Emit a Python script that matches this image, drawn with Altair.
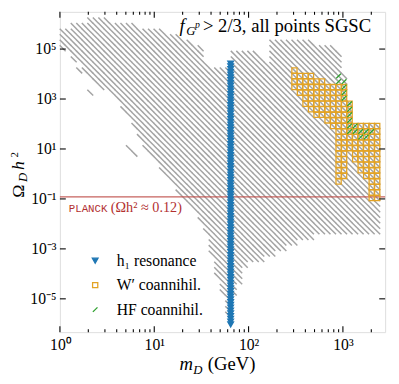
import altair as alt
import numpy as np
import pandas as pd

# ---------------- binning of the scan (log10 units) ----------------
DLX = 0.0585          # width of one m_D bin, decades
DLY = 2.0 / 9.0       # height of one Omega h^2 bin, decades
LY0 = 4.255           # a bin edge in log10(Omega h^2)

# ---------------- all points (grey hatch) ----------------
# per m_D bin i (centre log10 m = DLX*(i+0.5)): top / bottom log10(Omega h^2)
gray_top = [5.75, 5.82, 5.94, 6.02, 6.14, 6.22, 6.22, 6.22, 6.18, 6.14,
            6.06, 6.02, 5.98, 5.94, 5.90, 5.86, 5.82, 5.75, 5.71, 5.67,
            5.63, 5.55, 5.47, 5.39, 5.24, 5.04, 4.37, 4.33, 4.33, 4.33,
            4.33, 4.84, 4.84, 4.84, 4.84, 4.84, 4.76, 4.53, 5.31, 5.31,
            5.31, 5.31, 5.31, 5.31, 5.31, 5.31, 5.24, 5.24, 5.16, 5.08,
            4.96, 3.98, 2.92, 2.00, 2.00, 2.00, 2.00, 2.00]
gray_bot = [4.96, 4.84, 4.65, 4.37, 4.06, 3.86, 3.67, 3.47, 3.27, 3.08,
            2.88, 2.49, 2.18, 1.78, 1.39, 1.00, 0.73, 0.45, 0.14, -0.18,
            -0.49, -0.80, -1.04, -1.27, -1.63, -2.02, -2.41, -3.20, -4.18, -4.96,
            -5.67, -4.96, -4.37, -3.71, -3.59, -3.51, -3.51, -3.39, -3.20, -3.12,
            -3.08, -2.92, -2.80, -2.69, -2.61, -2.53, -2.45, -2.41, -2.37, -2.33,
            -2.33, -2.33, -2.33, -2.33, -2.33, -2.33, -2.41, -2.45]
# isolated grey points
gray_extra_logm = [0.15, 0.21, 0.32, 0.73, 0.79]
gray_extra_logo = [4.50, 4.20, 3.30, 1.00, 0.90]

# ---------------- h1 resonance ----------------
res_logm = 1.81
res_logo_top = 4.45
res_logo_bot = -6.06

# ---------------- W' coannihilation (rows of bins) ----------------
w_logo    = [4.14, 3.92, 3.70, 3.48, 3.26, 3.03, 2.81, 2.59, 2.37, 2.14,
             1.92, 1.70, 1.48, 1.26, 1.03, 0.81, 0.81, 0.59, 0.59, 0.37,
             0.37, 0.14, 0.14, -0.08, -0.08, -0.30, -0.30, -0.52, -0.75, -0.97]
w_logm_lo = [2.49, 2.49, 2.49, 2.49, 2.55, 2.60, 2.60, 2.66, 2.72, 2.84,
             2.90, 2.95, 2.95, 2.95, 2.95, 2.95, 3.13, 2.95, 3.13, 2.95,
             3.19, 2.95, 3.19, 2.95, 3.25, 2.95, 3.31, 3.31, 3.31, 3.31]
w_logm_hi = [2.49, 2.66, 2.78, 3.01, 3.01, 3.01, 3.07, 3.07, 3.07, 3.07,
             3.36, 3.36, 3.36, 3.36, 3.36, 3.01, 3.36, 3.01, 3.36, 3.01,
             3.36, 3.01, 3.36, 3.01, 3.36, 2.95, 3.36, 3.36, 3.36, 3.36]

# ---------------- HF coannihilation (rows of bins) ----------------
hf_logo    = [3.92, 3.70, 3.48, 3.26, 3.03, 2.81, 2.59, 2.37, 2.14, 1.92, 1.70, 1.48]
hf_logm_lo = [2.95, 2.95, 3.01, 3.01, 3.01, 3.07, 3.07, 3.07, 3.07, 3.07, 3.07, 3.19]
hf_logm_hi = [2.95, 3.01, 3.01, 3.01, 3.01, 3.07, 3.07, 3.07, 3.07, 3.13, 3.31, 3.25]

series_labels = ["h\u2081 resonance", "W\u2032 coannihil.", "HF coannihil."]

# ---------------- axes ----------------
x_major = [1, 10, 100, 1000]
x_labels = ["10\u2070", "10\u00b9", "10\u00b2", "10\u00b3"]
x_minor = [2, 3, 4, 5, 6, 7, 8, 9, 20, 30, 40, 50, 60, 70, 80, 90,
           200, 300, 400, 500, 600, 700, 800, 900, 2000]
y_major = [1e5, 1e3, 1e1, 1e-1, 1e-3, 1e-5]
y_labels = ["10\u2075", "10\u00b3", "10\u00b9", "10\u207b\u00b9", "10\u207b\u00b3", "10\u207b\u2075"]
planck = [0.12]

# ---------------- build tables ----------------
def xc(i):
    return DLX * (i + 0.5)

def xi(lm):
    return int(round(lm / DLX - 0.5))

def yc(k, step=DLY):
    return LY0 + step * (k + 0.5)

def yk(lo, step=DLY):
    return int(round((lo - LY0) / step - 0.5))

def krange(lo, hi, step=DLY):
    return range(int(np.ceil((lo - LY0) / step - 0.5)), int(np.floor((hi - LY0) / step - 0.5)) + 1)

g = []
for i, (t, b) in enumerate(zip(gray_top, gray_bot)):
    for k in krange(b, t):
        g.append((10 ** xc(i), 10 ** yc(k)))
for lm, lo in zip(gray_extra_logm, gray_extra_logo):
    g.append((10 ** xc(xi(lm)), 10 ** yc(yk(lo))))
gray_df = pd.DataFrame(g, columns=["m", "omega"])

s = []
for k in krange(res_logo_bot, res_logo_top, DLY / 2):
    s.append((series_labels[0], 10 ** res_logm, 10 ** yc(k, DLY / 2)))
for lo, a, b in zip(w_logo, w_logm_lo, w_logm_hi):
    for i in range(xi(a), xi(b) + 1):
        s.append((series_labels[1], 10 ** xc(i), 10 ** yc(yk(lo))))
for lo, a, b in zip(hf_logo, hf_logm_lo, hf_logm_hi):
    for i in range(xi(a), xi(b) + 1):
        s.append((series_labels[2], 10 ** xc(i), 10 ** yc(yk(lo))))
spec_df = pd.DataFrame(s, columns=["kind", "m", "omega"])

W, H = 332, 327
xscale = alt.Scale(type="log", domain=[1, 10 ** 3.4475], nice=False)
yscale = alt.Scale(type="log", domain=[10 ** -6.334, 10 ** 6.49], nice=False)

SERIF = "Liberation Serif"


def lab_expr(vals, labels):
    e = "round(log(datum.value)/LN10)"
    parts = [f"{e} == {int(round(np.log10(v)))} ? '{l}'" for v, l in zip(vals, labels)]
    return " : ".join(parts) + " : ''"


XAX = alt.Axis(values=x_major, labelExpr=lab_expr(x_major, x_labels), ticks=False, tickSize=0,
               domain=False, grid=False, title=None, labelFont=SERIF, labelFontSize=16,
               labelColor="black", labelPadding=5, labelFlush=False, labelOverlap=False)
YAX = alt.Axis(values=y_major, labelExpr=lab_expr(y_major, y_labels), ticks=False, tickSize=0,
               domain=False, grid=False, title=None, labelFont=SERIF, labelFontSize=16,
               labelColor="black", labelPadding=4, labelFlush=False, labelOverlap=False)

gray = alt.Chart(gray_df).mark_point(
    shape="M-1,-1L1,1", filled=False, size=36, stroke="#a3a3a3",
    strokeWidth=1.5, opacity=1
).encode(
    x=alt.X("m:Q", scale=xscale, axis=XAX),
    y=alt.Y("omega:Q", scale=yscale, axis=YAX),
)

planck_line = alt.Chart(pd.DataFrame({"v": planck})).mark_rule(
    color="#c0504d", strokeWidth=1.2, opacity=0.9
).encode(y=alt.Y("v:Q", scale=yscale, axis=YAX))

leg = alt.Legend(orient="none", legendX=28, legendY=246, title=None, padding=0,
                 labelFont=SERIF, labelFontSize=16, labelColor="black",
                 rowPadding=9, labelOffset=14, symbolStrokeWidth=1.3, labelLimit=300)
dom = series_labels
special = alt.Chart(spec_df).mark_point(strokeWidth=1.3, opacity=1).encode(
    x=alt.X("m:Q", scale=xscale, axis=XAX),
    y=alt.Y("omega:Q", scale=yscale, axis=YAX),
    shape=alt.Shape("kind:N", scale=alt.Scale(domain=dom, range=["triangle-down", "square", "M-1,1L1,-1"]), legend=leg),
    fill=alt.Fill("kind:N", scale=alt.Scale(domain=dom, range=["#1f77b4", "transparent", "transparent"]), legend=leg),
    stroke=alt.Stroke("kind:N", scale=alt.Scale(domain=dom, range=["#1f77b4", "#e3a324", "#2ca02c"]), legend=leg),
    size=alt.Size("kind:N", scale=alt.Scale(domain=dom, range=[34, 22, 14]), legend=leg),
)

# inward ticks on all four sides
def xticks(vals, length):
    d = pd.DataFrame({"v": vals})
    bot = alt.Chart(d).mark_rule(color="black", strokeWidth=1.1).encode(
        x=alt.X("v:Q", scale=xscale, axis=XAX), y=alt.value(H), y2=alt.value(H - length))
    top = alt.Chart(d).mark_rule(color="black", strokeWidth=1.1).encode(
        x=alt.X("v:Q", scale=xscale, axis=XAX), y=alt.value(0), y2=alt.value(length))
    return [bot, top]

yd = pd.DataFrame({"v": y_major})
yt_left = alt.Chart(yd).mark_rule(color="black", strokeWidth=1.1).encode(
    y=alt.Y("v:Q", scale=yscale, axis=YAX), x=alt.value(0), x2=alt.value(6))
yt_right = alt.Chart(yd).mark_rule(color="black", strokeWidth=1.1).encode(
    y=alt.Y("v:Q", scale=yscale, axis=YAX), x=alt.value(W), x2=alt.value(W - 6))


def txt(t, x, y, size, font=SERIF, style="normal", align="left", angle=0, color="black"):
    return alt.Chart(pd.DataFrame({"t": [t]})).mark_text(
        font=font, fontSize=size, fontStyle=style, align=align, baseline="alphabetic",
        angle=angle, color=color
    ).encode(x=alt.value(x), y=alt.value(y), text="t:N")

texts = [
    # x title
    txt("m", 122, 366, 19, style="italic"),
    txt("D", 136, 370, 13, style="italic"),
    txt("(GeV)", 151, 366, 19),
    # y title
    txt("\u03a9", -37, 183, 18, align="center", angle=270),
    txt("D", -34, 169, 13, style="italic", align="center", angle=270),
    txt("h", -37, 157, 18, style="italic", align="center", angle=270),
    txt("2", -42.5, 146, 11, align="center", angle=270),
    # annotation
    txt("f", 122, 21, 19, style="italic"),
    txt("G", 129, 24, 13, style="italic"),
    txt("p", 138, 16.5, 10, style="italic"),
    txt("> 2/3, all points SGSC", 146, 21, 19),
    # planck
    txt("PLANCK", 9, 204, 11, font="Liberation Mono", color="#b22f2f"),
    txt("(\u03a9h\u00b2 \u2248 0.12)", 52, 204, 14.5, color="#b22f2f"),
]

chart = alt.layer(
    gray, planck_line, special, *xticks(x_major, 6), *xticks(x_minor, 3),
    yt_left, yt_right, *texts
).properties(
    width=W, height=H,
    autosize=alt.AutoSizeParams(type="none"),
    padding={"left": 53, "top": 0, "right": 6, "bottom": 49},
).configure_view(stroke="black", strokeWidth=1.6).configure(background="white")

chart.save("out.html", embed_options={"renderer": "svg", "actions": False})
